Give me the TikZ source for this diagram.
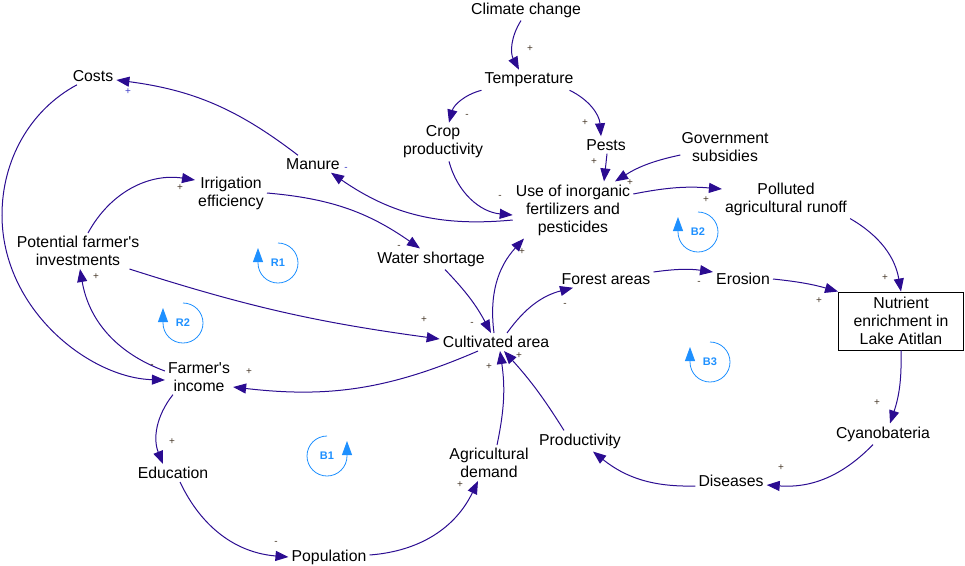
\documentclass[tikz,border=0pt]{standalone}
\usepackage{fontspec}
\setmainfont{Liberation Sans}
\usetikzlibrary{arrows.meta}
\definecolor{linkcol}{RGB}{43,12,145}
\definecolor{loopcol}{RGB}{30,144,255}
\definecolor{signcol}{RGB}{70,55,40}
\definecolor{signblue}{RGB}{60,60,200}
\begin{document}
\begin{tikzpicture}[x=1pt, y=1pt,
  txt/.style={inner sep=3pt, align=center, font=\fontsize{15.8}{18}\selectfont},
  var/.style={txt, yshift=-2},
  stock/.style={txt, draw, line width=0.9pt, minimum width=125, minimum height=58},
  link/.style={draw=linkcol, line width=1pt, -{Triangle[length=13,width=10]}},
  sign/.style={inner sep=0pt, font=\fontsize{10}{12}\selectfont},
  looptxt/.style={text=loopcol, font=\bfseries\fontsize{11}{13}\selectfont},
  loopline/.style={draw=loopcol, line width=0.8pt, -{Triangle[length=14,width=10]}}]
  \useasboundingbox (0,0) rectangle (965,-565);
  % variables
  \node[var] (climate) at (526,-8) {Climate change};
  \node[var] (temp) at (529,-78) {Temperature};
  \node[var] (crop) at (443,-140) {Crop\\productivity};
  \node[var] (pests) at (606,-143) {Pests};
  \node[var] (gov) at (725,-145) {Government\\subsidies};
  \node[var] (use) at (573,-208) {Use of inorganic\\fertilizers and\\pesticides};
  \node[var] (runoff) at (786,-197) {Polluted\\agricultural runoff};
  \node[var] (costs) at (93,-74) {Costs};
  \node[var] (manure) at (313,-162) {Manure};
  \node[var] (irrig) at (231,-191) {Irrigation\\efficiency};
  \node[var] (invest) at (78,-249) {Potential farmer\textquotesingle s\\investments};
  \node[var] (water) at (431,-257) {Water shortage};
  \node[var] (forest) at (606,-277) {Forest areas};
  \node[var] (erosion) at (743,-277) {Erosion};
  \node[stock] (nutrient) at (901,-321) {Nutrient\\enrichment in\\Lake Atitlan};
  \node[var] (cult) at (496,-340) {Cultivated area};
  \node[var] (income) at (199,-375) {Farmer\textquotesingle s\\income};
  \node[var] (edu) at (173,-471) {Education};
  \node[var] (demand) at (489,-461) {Agricultural\\demand};
  \node[var] (prod) at (580,-439) {Productivity};
  \node[var] (cyano) at (883,-432) {Cyanobateria};
  \node[var] (dis) at (731,-479) {Diseases};
  \node[var] (pop) at (329,-555) {Population};
  % links
  \draw[link] ([xshift=-5]climate.south) to[bend right=30] ([xshift=-10]temp.north);
  \draw[link] (temp.south west) to[bend right=30] ([xshift=6]crop.north);
  \draw[link] ([xshift=-7]temp.south east) to[bend left=30] ([xshift=-5]pests.north);
  \draw[link] ([xshift=1]pests.south) -- ([xshift=31]use.north);
  \draw[link] ([xshift=2,yshift=-8]gov.west) to[bend right=10] ([xshift=42]use.north);
  \draw[link] ([xshift=6]crop.south) to[bend right=35] ([yshift=-5]use.west);
  \draw[link] ([yshift=-10]use.west) to[bend left=20] ([xshift=18]manure.south);
  \draw[link] ([xshift=-15]manure.north) to[bend right=15] ([yshift=-4]costs.east);
  \draw[link] ([xshift=-16]costs.south) .. controls (30,-110) and (2,-160) .. (2,-215)
    .. controls (2,-310) and (90,-378) .. ([yshift=-3]income.west);
  \draw[link] ([yshift=6]income.west) to[bend left=30] ([xshift=2]invest.south);
  \draw[link] ([xshift=10]invest.north) to[bend left=35] ([yshift=13]irrig.west);
  \draw[link] (irrig.east) to[bend left=15] ([xshift=-11]water.north);
  \draw[link] ([xshift=14]water.south) to[bend left=8] ([xshift=-5]cult.north);
  \draw[link] ([xshift=-13]invest.south east) to[bend right=5] ([yshift=3]cult.west);
  \draw[link] ([xshift=-18]cult.south) to[bend left=15] ([yshift=-10]income.east);
  \draw[link] ([xshift=-2]cult.north) to[bend left=25] ([xshift=-49]use.south);
  \draw[link] ([xshift=11]cult.north) to[bend left=20] ([xshift=-33]forest.south);
  \draw[link] ([yshift=7]forest.east) to[bend left=8] ([yshift=7]erosion.west);
  \draw[link] (erosion.east) to[bend left=5] (nutrient.north west);
  \draw[link] (runoff.south east) to[bend left=25] (nutrient.north);
  \draw[link] ([yshift=16]use.east) to[bend left=8] ([yshift=10]runoff.west);
  \draw[link] (nutrient.south) to[bend left=10] ([xshift=7]cyano.north);
  \draw[link] ([xshift=-10]cyano.south) to[bend left=25] ([yshift=-4]dis.east);
  \draw[link] ([yshift=-5]dis.west) to[bend left=20] ([xshift=13]prod.south);
  \draw[link] ([xshift=-16]prod.north) to[bend right=5] ([xshift=8]cult.south);
  \draw[link] ([xshift=8]demand.north) to[bend right=10] ([xshift=4]cult.south);
  \draw[link] ([xshift=7]edu.south) to[bend right=30] (pop.west);
  \draw[link] ([yshift=2]pop.east) to[bend right=30] ([xshift=-11]demand.south);
  \draw[link] ([xshift=8]income.south west) to[bend right=30] ([xshift=-10]edu.north);
  % polarities
  \foreach \x/\y/\s/\c [count=\k] in {530/49/+/signcol, 467/116/-/signcol, 585/123/+/signcol,
      594/162/+/signcol, 630/183/+/signcol, 500/197/-/signcol, 346/169/-/signblue,
      128/92/+/signblue, 152/366/-/signcol, 96/277/+/signcol, 180/188/+/signcol,
      399/247/-/signcol, 472/324/-/signcol, 424/320/+/signcol, 249/372/+/signcol,
      522/252/+/signcol, 565/305/-/signcol, 699/283/-/signcol, 819/301/+/signcol,
      885/278/+/signcol, 706/200/+/signcol, 877/403/+/signcol, 781/468/+/signcol,
      610/447/-/signcol, 519/356/+/signcol, 489/367/+/signcol, 276/543/-/signcol,
      460/485/+/signcol, 172/442/+/signcol}
  {
    \node[sign, text=\c] (sign\k) at (\x,-\y) {\s};
  }
  % loops
  \foreach \nm/\x/\y in {R1/278/263, R2/183/323, B2/698/232, B3/710/362}
  {
    \node[looptxt] (loop\nm) at (\x,-\y) {\nm};
    \draw[loopline] (\x,-\y) ++(90:20) arc[start angle=90, end angle=-180, radius=20] -- ++(0,15);
  }
  \node[looptxt] (loopB1) at (327,-456) {B1};
  \draw[loopline] (327,-456) ++(90:20) arc[start angle=90, end angle=360, radius=20] -- ++(0,15);
\end{tikzpicture}
\end{document}
